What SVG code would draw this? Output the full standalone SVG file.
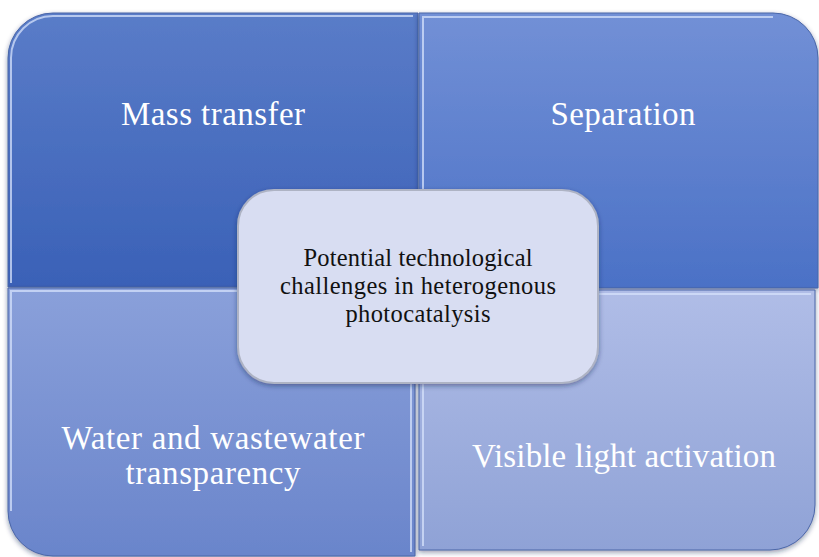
<svg xmlns="http://www.w3.org/2000/svg" width="819" height="557" viewBox="0 0 819 557">
  <defs>
    <linearGradient id="gTL" x1="0" y1="0" x2="0" y2="1">
      <stop offset="0" stop-color="#5a7cc8"/>
      <stop offset="1" stop-color="#3a61b7"/>
    </linearGradient>
    <linearGradient id="gTR" x1="0" y1="0" x2="0" y2="1">
      <stop offset="0" stop-color="#7290d6"/>
      <stop offset="1" stop-color="#4b71c6"/>
    </linearGradient>
    <linearGradient id="gBL" x1="0" y1="0" x2="0" y2="1">
      <stop offset="0" stop-color="#8aa0da"/>
      <stop offset="1" stop-color="#6a85cb"/>
    </linearGradient>
    <linearGradient id="gBR" x1="0" y1="0" x2="0" y2="1">
      <stop offset="0" stop-color="#b0bde7"/>
      <stop offset="1" stop-color="#8fa2d6"/>
    </linearGradient>
    <filter id="shadow" x="-10%" y="-10%" width="120%" height="125%">
      <feDropShadow dx="0" dy="2" stdDeviation="2.5" flood-color="#1a2550" flood-opacity="0.45"/>
    </filter>
  </defs>
  <style>
    .panel { stroke: #4a66a8; stroke-width: 1; filter: url(#shadow); }
    .bevel { fill: none; stroke: #d6e2fb; stroke-width: 2; stroke-opacity: 0.75; }
    .label { font-family: "Liberation Serif", "DejaVu Serif", serif; font-size: 33px; fill: #ffffff; text-anchor: middle; }
    .center-label { font-family: "Liberation Serif", "DejaVu Serif", serif; font-size: 24.5px; fill: #111111; text-anchor: middle; }
  </style>

  <rect width="819" height="557" fill="#ffffff"/>

  <!-- top-left quadrant -->
  <g id="mass-transfer">
    <path class="panel" fill="url(#gTL)" d="M8,287 V58 A45,45 0 0 1 53,13 H418 V287 Z"/>
    <path class="bevel" d="M11,283 V58 A42,42 0 0 1 53,16 H413"/>
    <text class="label" x="213" y="125" textLength="184" lengthAdjust="spacing">Mass transfer</text>
  </g>

  <!-- top-right quadrant -->
  <g id="separation">
    <path class="panel" fill="url(#gTR)" d="M419,13 H773 A45,45 0 0 1 818,58 V288 H419 Z"/>
    <path class="bevel" d="M423,283 V17 H773"/>
    <text class="label" x="623" y="125" textLength="145" lengthAdjust="spacing">Separation</text>
  </g>

  <!-- bottom-left quadrant -->
  <g id="water-transparency">
    <path class="panel" fill="url(#gBL)" d="M8,288 H415 V556 H53 A45,45 0 0 1 8,511 Z"/>
    <path class="bevel" d="M11,511 V291 H411 V552"/>
    <text class="label" x="213" y="449" textLength="303" lengthAdjust="spacing">Water and wastewater</text>
    <text class="label" x="213" y="484" textLength="175" lengthAdjust="spacing">transparency</text>
  </g>

  <!-- bottom-right quadrant -->
  <g id="visible-light">
    <path class="panel" fill="url(#gBR)" d="M419,290 H815 V505 A45,45 0 0 1 770,550 H419 Z"/>
    <path class="bevel" d="M423,546 V294 H811"/>
    <text class="label" x="624" y="467" textLength="304" lengthAdjust="spacing">Visible light activation</text>
  </g>

  <!-- central topic -->
  <g id="center-topic">
    <rect x="238" y="190" width="360" height="193" rx="36" ry="36" fill="#d8ddf2" stroke="#aeb3c4" stroke-width="2" filter="url(#shadow)"/>
    <text class="center-label" x="418" y="266" textLength="229" lengthAdjust="spacing">Potential technological</text>
    <text class="center-label" x="418" y="294" textLength="276" lengthAdjust="spacing">challenges in heterogenous</text>
    <text class="center-label" x="418" y="322" textLength="145" lengthAdjust="spacing">photocatalysis</text>
  </g>
</svg>
